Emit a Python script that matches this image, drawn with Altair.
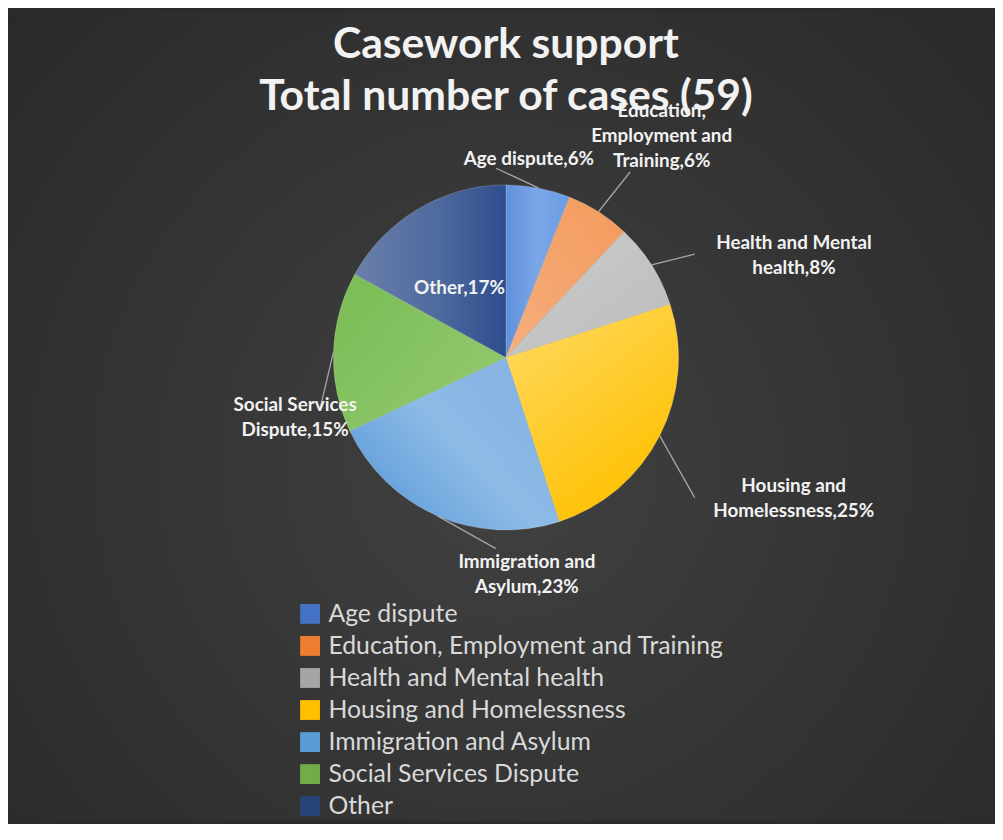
import altair as alt
import pandas as pd

# ---------------- data ----------------
categories = ["Age dispute", "Education, Employment and Training", "Health and Mental health",
              "Housing and Homelessness", "Immigration and Asylum", "Social Services Dispute", "Other"]
percentages = [6, 6, 8, 25, 23, 15, 17]
label_names = ["Age dispute", "Education,\nEmployment and\nTraining", "Health and Mental\nhealth",
               "Housing and\nHomelessness", "Immigration and\nAsylum", "Social Services\nDispute", "Other"]
title_text = "Casework support\nTotal number of cases (59)"

# ---------------- style ----------------
legend_colors = ["#4472C4", "#ED7D31", "#A5A5A5", "#FFC000", "#5B9BD5", "#70AD47", "#264478"]
# per-slice gradient: (stops, x1, y1, x2, y2)
slice_gradients = [
    ([("#6090DD", 0), ("#7BA7E7", 0.5), ("#6A9BE2", 1)], 0, 0.5, 1, 0.5),
    ([("#F6AE7E", 0), ("#F39A5C", 1)], 0, 1, 1, 0),
    ([("#CDCDCD", 0), ("#BBBBBB", 1)], 0, 0, 1, 1),
    ([("#FFDB66", 0), ("#FFC000", 1)], 0, 0, 0.6, 1),
    ([("#5B9BD9", 0), ("#8DBBE6", 0.6), ("#86B4E3", 1)], 0, 0.8, 0.8, 0.2),
    ([("#79BC54", 0), ("#92C96F", 1)], 0, 0, 1, 0.8),
    ([("#6A7FAB", 0), ("#4F6A9E", 0.55), ("#2E4D8C", 1)], 0, 0.5, 1, 0.5),
]
# label placement: angle shift from slice mid-angle (deg), distance from centre (px)
label_shift = [-4.2, 2.7, 12.9, -0.9, -28.9, -17.7, -3.3]
label_dist = [201, 273, 308, 323, 220, 221, 84]
line_shift = [-13.8, 1.4, 3.7, 9.6, -20.4, -17.5, 0]
line_dist = [191, 225, 217, 237, 193, 195, 0]

W, H = 995, 816
CX, CY, R = 502, 349, 174
LH = 25
TOTAL = sum(percentages)

df = pd.DataFrame({
    "category": categories, "value": percentages, "order": list(range(len(categories))),
    "name": label_names, "dA": label_shift, "rA": label_dist, "dL": line_shift, "rL": line_dist,
})

bg = alt.Chart(pd.DataFrame({"k": [0]})).mark_rect(
    color=alt.Gradient(
        gradient="radial",
        stops=[alt.GradientStop(color="#414141", offset=0),
               alt.GradientStop(color="#252525", offset=1)],
        x1=0.5, y1=0.55, r1=0, x2=0.5, y2=0.55, r2=0.8,
    )
).encode(x=alt.value(0), x2=alt.value(W), y=alt.value(0), y2=alt.value(H))

title = alt.Chart(pd.DataFrame({"t": [title_text]})).mark_text(
    font="Lato", fontWeight="bold", fontSize=43, lineHeight=53, color="#f2f2f2",
    align="center", baseline="alphabetic", lineBreak="\n",
).encode(x=alt.value(502), y=alt.value(47), text="t:N")

legend_layer = alt.Chart(df).mark_square(size=4, opacity=1).encode(
    x=alt.value(CX), y=alt.value(CY),
    color=alt.Color("category:N", scale=alt.Scale(domain=categories, range=legend_colors),
                    legend=alt.Legend(
                        orient="none", legendX=292, legendY=595, title=None, padding=0,
                        symbolType="square", symbolSize=400, symbolStrokeWidth=0, symbolOpacity=1,
                        labelFont="Lato", labelFontSize=25, labelColor="#d9d9d9",
                        labelOffset=6, rowPadding=6.3, labelLimit=600,
                    )),
)

calc = alt.Chart(df).transform_joinaggregate(total="sum(value)").transform_window(
    cum="sum(value)", sort=[alt.SortField("order")], frame=[None, 0]
).transform_calculate(
    start="datum.cum - datum.value",
    mid="(datum.cum - datum.value/2)/datum.total*2*PI",
    nl="length(split(datum.name, '\\n'))",
).transform_calculate(
    lx=f"{CX} + datum.rA*sin(datum.mid + datum.dA*PI/180)",
    ly=f"{CY} - datum.rA*cos(datum.mid + datum.dA*PI/180) - (datum.nl - 1)*{LH}/2",
    x1=f"{CX} + {R}*sin(datum.mid)",
    y1=f"{CY} - {R}*cos(datum.mid)",
    x2=f"{CX} + datum.rL*sin(datum.mid + datum.dL*PI/180)",
    y2=f"{CY} - datum.rL*cos(datum.mid + datum.dL*PI/180)",
    label="datum.name + ',' + datum.value + '%'",
)

arc_layers = []
for cat, (stops, gx1, gy1, gx2, gy2) in zip(categories, slice_gradients):
    grad = alt.Gradient(
        gradient="linear",
        stops=[alt.GradientStop(color=c, offset=o) for c, o in stops],
        x1=gx1, y1=gy1, x2=gx2, y2=gy2,
    )
    arc_layers.append(
        calc.transform_filter(alt.datum.category == cat).mark_arc(
            radius=R, color=grad, stroke="#ffffff", strokeOpacity=0.25, strokeWidth=0.7,
        ).encode(
            theta=alt.Theta("start:Q", stack=None, scale=alt.Scale(domain=[0, TOTAL], zero=True)),
            theta2="cum:Q",
            x=alt.value(CX), y=alt.value(CY),
        )
    )

lines = calc.transform_filter("datum.rL > 0").mark_rule(color="#a6a6a6", strokeWidth=1.3).encode(
    x=alt.X("x1:Q", scale=None), y=alt.Y("y1:Q", scale=None),
    x2="x2:Q", y2="y2:Q",
)

labels = calc.mark_text(
    font="Lato", fontWeight="bold", fontSize=19, lineHeight=LH, color="#f2f2f2",
    align="center", baseline="middle", lineBreak="\n",
).encode(x=alt.X("lx:Q", scale=None), y=alt.Y("ly:Q", scale=None), text="label:N")

chart = alt.layer(bg, title, legend_layer, *arc_layers, lines, labels).properties(
    width=W, height=H, padding=0, background="#2b2b2b"
).configure_view(strokeWidth=0)

chart.save("out.html", embed_options={"renderer": "svg", "actions": False})
